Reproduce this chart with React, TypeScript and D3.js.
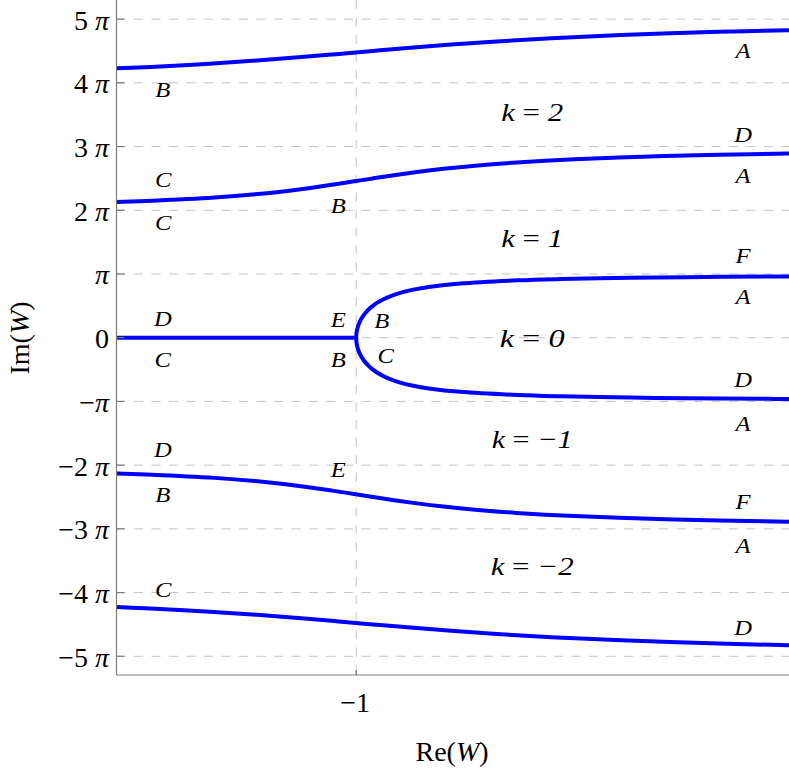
import React from "react";
import * as d3 from "d3";

const WIDTH = 789;
const HEIGHT = 771;

// Domains: Re(W) and Im(W) in units of π
const reDomain: [number, number] = [-15.4, 25];
const imDomain: [number, number] = [-5.3, 5.3];

const yTickValues = [-5, -4, -3, -2, -1, 0, 1, 2, 3, 4, 5];
const yTickNums = ["−5", "−4", "−3", "−2", "−", "0", "", "2", "3", "4", "5"];
const xTickValues = [-1];
const xTickLabels = ["−1"];

// Branch boundaries (Re, Im/π)
const curveTop: [number, number][] = [
  [-15.4, 4.227], [-13.35, 4.25], [-9.81, 4.3], [-6.96, 4.35], [-4.49, 4.4],
  [-2.21, 4.45], [0, 4.5], [2.26, 4.55], [4.7, 4.6], [7.44, 4.65],
  [10.73, 4.7], [14.92, 4.75], [20.76, 4.8], [25, 4.8265],
];
const curveUpper: [number, number][] = [
  [-15.4, 2.1305], [-13.26, 2.15], [-9.51, 2.2], [-7.07, 2.25], [-5.25, 2.3],
  [-3.76, 2.35], [-2.45, 2.4], [-1.22, 2.45], [0, 2.5], [1.27, 2.55],
  [2.65, 2.6], [4.24, 2.65], [6.16, 2.7], [8.64, 2.75], [12.11, 2.8],
  [17.57, 2.85], [20.84, 2.87], [25, 2.889],
];
const curvePrincipal: [number, number][] = [
  [25, -0.9617], [23.87, -0.96], [18.84, -0.95], [15.48, -0.94], [11.26, -0.92],
  [8.702, -0.9], [5.241, -0.85], [3.459, -0.8], [2.356, -0.75], [1.598, -0.7],
  [1.04, -0.65], [0.612, -0.6], [0.274, -0.55], [0, -0.5], [-0.224, -0.45],
  [-0.408, -0.4], [-0.56, -0.35], [-0.685, -0.3], [-0.785, -0.25], [-0.865, -0.2],
  [-0.925, -0.15], [-0.967, -0.1], [-0.992, -0.05], [-1, 0],
  [-0.992, 0.05], [-0.967, 0.1], [-0.925, 0.15], [-0.865, 0.2], [-0.785, 0.25],
  [-0.685, 0.3], [-0.56, 0.35], [-0.408, 0.4], [-0.224, 0.45], [0, 0.5],
  [0.274, 0.55], [0.612, 0.6], [1.04, 0.65], [1.598, 0.7], [2.356, 0.75],
  [3.459, 0.8], [5.241, 0.85], [8.702, 0.9], [11.26, 0.92], [15.48, 0.94],
  [18.84, 0.95], [23.87, 0.96], [25, 0.9617],
];
const curveCut: [number, number][] = [
  [-15.4, 0], [-1, 0],
];
const curveLower: [number, number][] = [
  [-15.4, -2.1305], [-13.26, -2.15], [-9.51, -2.2], [-7.07, -2.25], [-5.25, -2.3],
  [-3.76, -2.35], [-2.45, -2.4], [-1.22, -2.45], [0, -2.5], [1.27, -2.55],
  [2.65, -2.6], [4.24, -2.65], [6.16, -2.7], [8.64, -2.75], [12.11, -2.8],
  [17.57, -2.85], [20.84, -2.87], [25, -2.889],
];
const curveBottom: [number, number][] = [
  [-15.4, -4.227], [-13.35, -4.25], [-9.81, -4.3], [-6.96, -4.35], [-4.49, -4.4],
  [-2.21, -4.45], [0, -4.5], [2.26, -4.55], [4.7, -4.6], [7.44, -4.65],
  [10.73, -4.7], [14.92, -4.75], [20.76, -4.8], [25, -4.8265],
];

const letterText = [
  "B", "A", "D", "A", "C", "C", "B", "F", "A",
  "D", "E", "B", "C", "C", "B", "D", "A",
  "D", "E", "B", "F", "A", "C", "D",
];
const letterRe = [
  -12.62, 22.24, 22.24, 22.24, -12.6, -12.6, -2.08, 22.24, 22.24,
  -12.62, -2.08, 0.53, 0.77, -12.62, -2.08, 22.24, 22.24,
  -12.62, -2.08, -12.62, 22.24, 22.24, -12.6, 22.24,
];
const letterIm = [
  3.782, 4.385, 3.076, 2.423, 2.37, 1.698, 1.952, 1.177, 0.529,
  0.184, 0.173, 0.148, -0.392, -0.455, -0.455, -0.769, -1.464,
  -1.877, -2.181, -2.578, -2.693, -3.384, -4.074, -4.666,
];

const branchK = ["2", "1", "0", "−1", "−2"];
const branchRe = [9.57, 9.57, 9.57, 9.57, 9.57];
const branchIm = [3.406, 1.428, -0.141, -1.736, -3.724];
const branchWidths = [62, 62, 65, 81, 83];

const SERIF = "'Liberation Serif', 'Times New Roman', serif";

export default function App() {
  const x = d3.scaleLinear().domain(reDomain).range([116.5, 789]);
  const y = d3.scaleLinear().domain(imDomain).range([675.4, 0]);
  const left = 116.5;
  const bottom = 675;
  const right = 789;

  const line = d3
    .line<[number, number]>()
    .x((d) => x(d[0]))
    .y((d) => y(d[1]))
    .curve(d3.curveCatmullRom.alpha(0.5));

  const curves = [curveTop, curveUpper, curvePrincipal, curveCut, curveLower, curveBottom];

  return (
    <svg
      width={WIDTH}
      height={HEIGHT}
      style={{ position: "absolute", left: 0, top: 0, background: "#fff" }}
      fontFamily={SERIF}
    >
      <defs>
        <clipPath id="plotClip">
          <rect x={left} y={0} width={right - left} height={bottom} />
        </clipPath>
      </defs>
      <rect x={0} y={0} width={WIDTH} height={HEIGHT} fill="#fff" />
      {/* grid */}
      <g stroke="#c4c4c4" strokeWidth={1} strokeDasharray="9,8.5">
        {yTickValues.map((v) => (
          <line key={"g" + v} x1={left} x2={right} y1={y(v)} y2={y(v)} />
        ))}
        {xTickValues.map((v) => (
          <line key={"gx" + v} x1={x(v)} x2={x(v)} y1={0} y2={bottom} />
        ))}
      </g>
      {/* curves */}
      <g clipPath="url(#plotClip)" fill="none" stroke="#0000ff" strokeWidth={4} strokeLinecap="butt">
        {curves.map((c, i) => (
          <path key={"c" + i} d={line(c) || ""} />
        ))}
      </g>
      {/* axes */}
      <g stroke="#7a7a7a" strokeWidth={1.2}>
        <line x1={left} x2={left} y1={0} y2={bottom} />
        <line x1={left} x2={right} y1={bottom} y2={bottom} />
        {yTickValues.map((v) => (
          <line key={"t" + v} x1={left} x2={left + 8} y1={y(v)} y2={y(v)} />
        ))}
        {xTickValues.map((v) => (
          <line key={"tx" + v} x1={x(v)} x2={x(v)} y1={bottom} y2={bottom - 5} />
        ))}
      </g>
      {/* tick labels */}
      <g fontSize={28} fill="#000">
        {yTickValues.map((v, i) => (
          <text key={"l" + v} x={109} y={y(v) + 10.5} textAnchor="end">
            {yTickNums[i]}
            {v !== 0 ? (
              <tspan fontStyle="italic">{(yTickNums[i] && yTickNums[i] !== "−" ? " " : "") + "π"}</tspan>
            ) : null}
          </text>
        ))}
        {xTickValues.map((v, i) => (
          <text key={"lx" + v} x={x(v) - 1} y={711.7} textAnchor="middle">
            {xTickLabels[i]}
          </text>
        ))}
        <text x={452} y={761} textAnchor="middle">
          Re(<tspan fontStyle="italic">W</tspan>)
        </text>
        <text transform="translate(29,338) rotate(-90)" textAnchor="middle">
          Im(<tspan fontStyle="italic">W</tspan>)
        </text>
      </g>
      {/* letter labels */}
      <g fontSize={22} fontStyle="italic" fill="#000">
        {letterText.map((t, i) => (
          <text
            key={"L" + i}
            transform={`translate(${x(letterRe[i])},${y(letterIm[i])}) scale(1.12,1)`}
            textAnchor="middle"
          >
            {t}
          </text>
        ))}
      </g>
      {/* branch labels */}
      <g fontSize={26} fill="#000">
        {branchK.map((k, i) => (
          <text
            key={"k" + i}
            x={x(branchRe[i]) - branchWidths[i] / 2}
            y={y(branchIm[i])}
            textLength={branchWidths[i]}
            lengthAdjust="spacingAndGlyphs"
          >
            <tspan fontStyle="italic">k</tspan>
            {" = "}
            <tspan fontStyle="italic">{k}</tspan>
          </text>
        ))}
      </g>
    </svg>
  );
}
